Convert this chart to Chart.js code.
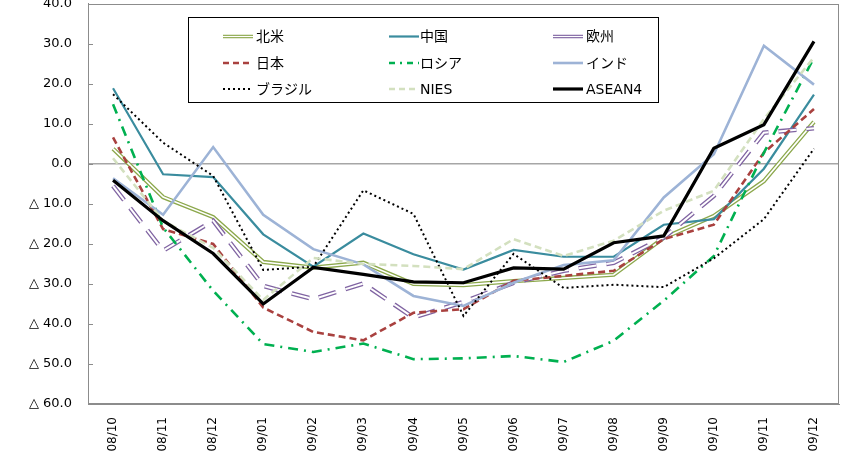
<!DOCTYPE html>
<html><head><meta charset="utf-8">
<script src="https://cdn.jsdelivr.net/npm/chart.js@4"></script>
<style>
html,body{margin:0;padding:0;background:#fff;overflow:hidden;width:847px;height:455px}
#wrap{position:absolute;left:0;top:-20px;width:847px;height:475px}
</style>
</head><body>
<div id="wrap"><canvas id="c" width="847" height="475"></canvas></div>
<script>
const categories = ['08/10','08/11','08/12','09/01','09/02','09/03','09/04','09/05','09/06','09/07','09/08','09/09','09/10','09/11','09/12'];
const seriesNames = ['北米','中国','欧州','日本','ロシア','インド','ブラジル','NIES','ASEAN4'];
const northAmerica = [3.8,-8.3,-13.3,-24.5,-25.9,-24.7,-30.0,-30.3,-29.3,-28.5,-27.7,-18.5,-13.0,-4.3,10.5];
const china        = [18.9,-2.6,-3.3,-17.6,-25.7,-17.4,-22.6,-26.4,-21.5,-23.2,-23.2,-15.2,-13.8,-1.2,17.3];
const europe       = [-5.5,-21.7,-14.2,-30.5,-33.8,-29.9,-38.4,-34.5,-29.7,-26.7,-24.7,-18.4,-8.0,7.8,8.9];
const japan        = [6.6,-16.3,-20.0,-35.9,-42.0,-44.1,-37.2,-36.3,-29.2,-28.0,-26.7,-18.8,-15.2,2.8,13.7];
const russia       = [14.9,-15.9,-31.7,-45.0,-47.0,-44.9,-48.8,-48.6,-48.0,-49.5,-44.2,-34.2,-23.0,2.8,26.5];
const india        = [-3.6,-12.7,4.2,-12.7,-21.3,-25.1,-33.0,-35.5,-29.7,-25.3,-24.1,-8.4,2.4,29.5,19.8];
const brazil       = [17.4,5.3,-3.0,-26.5,-25.7,-6.6,-12.5,-38.0,-22.5,-31.0,-30.2,-30.8,-23.6,-13.8,3.8];
const nies         = [1.4,-14.2,-21.0,-34.0,-23.5,-25.0,-25.5,-26.3,-18.8,-23.0,-19.2,-11.7,-6.7,11.2,26.6];
const asean4       = [-4.1,-14.2,-22.4,-35.0,-25.9,-27.6,-29.5,-29.7,-26.0,-26.3,-19.7,-18.0,3.9,9.8,30.6];
const yMin = -60, yMax = 40, yStep = 10;

const styles = [
  {color:'#8CA84C', width:4.2, dash:[], inner:1.6, legendDash:[]},
  {color:'#3A8C9E', width:2.2, dash:[], legendDash:[]},
  {color:'#8064A2', width:4.6, dash:[18,10], inner:2.0, legendDash:[]},
  {color:'#A9413F', width:2.6, dash:[7,4], legendDash:[6,4]},
  {color:'#00B050', width:2.6, dash:[10,6,2,6], legendDash:[6,5,2,5]},
  {color:'#9DB3D6', width:2.6, dash:[], legendDash:[]},
  {color:'#000000', width:2.0, dash:[2,3], legendDash:[2,3]},
  {color:'#D3E0BF', width:2.6, dash:[7,4], legendDash:[6,4]},
  {color:'#000000', width:3.2, dash:[], legendDash:[]}
];
const values = [northAmerica, china, europe, japan, russia, india, brazil, nies, asean4];

const datasets = values.map((v,i)=>({
  label: seriesNames[i],
  data: v,
  borderColor: styles[i].color,
  backgroundColor: styles[i].color,
  borderWidth: styles[i].width,
  borderDash: styles[i].dash,
  legendDash: styles[i].legendDash,
  inner: styles[i].inner || 0,
  pointRadius: 0,
  tension: 0,
  fill: false,
  order: values.length - 1 - i,
  borderJoinStyle: 'miter',
  borderCapStyle: 'butt'
}));

const custom = {
  id: 'custom',
  afterDatasetDraw(chart, args) {
    const ds = chart.data.datasets[args.index];
    if (!ds.inner) return;
    const ctx = chart.ctx, ca = chart.chartArea;
    ctx.save();
    ctx.beginPath(); ctx.rect(ca.left, ca.top, ca.right-ca.left, ca.bottom-ca.top); ctx.clip();
    ctx.beginPath();
    args.meta.data.forEach((p,i)=> i ? ctx.lineTo(p.x,p.y) : ctx.moveTo(p.x,p.y));
    ctx.strokeStyle = '#ffffff';
    ctx.lineWidth = ds.inner;
    ctx.setLineDash(ds.borderDash);
    ctx.lineJoin = 'miter';
    ctx.stroke();
    ctx.restore();
  },
  afterDraw(chart) {
    const ctx = chart.ctx, ca = chart.chartArea, ys = chart.scales.y;
    ctx.save();
    ctx.strokeStyle = '#8C8C8C'; ctx.lineWidth = 1; ctx.setLineDash([]);
    ctx.strokeRect(Math.round(ca.left)+0.5, Math.round(ca.top)+0.5, Math.round(ca.right-ca.left)-1, Math.round(ca.bottom-ca.top)-1);
    ctx.beginPath();
    for (let v = yMin; v <= yMax; v += yStep) {
      const y = Math.round(ys.getPixelForValue(v)) + 0.5;
      ctx.moveTo(ca.left, y); ctx.lineTo(ca.left + 5, y);
    }
    ctx.stroke();
    // legend (canvas coords = page + 20)
    const bx = 188.5, by = 37.5, bw = 470, bh = 85;
    ctx.fillStyle = '#fff'; ctx.fillRect(bx, by, bw, bh);
    ctx.strokeStyle = '#000'; ctx.lineWidth = 1; ctx.strokeRect(bx, by, bw, bh);
    const colLine = [223, 389, 553], colText = [256, 420, 586], rows = [56.5, 83, 109];
    ctx.font = '14px "DejaVu Sans", "Noto Sans CJK JP", sans-serif';
    ctx.textBaseline = 'middle'; ctx.textAlign = 'left';
    chart.data.datasets.forEach((ds, i) => {
      const r = Math.floor(i/3), c = i % 3;
      const x0 = colLine[c], y0 = rows[r];
      ctx.beginPath(); ctx.moveTo(x0, y0); ctx.lineTo(x0 + 30, y0);
      ctx.strokeStyle = ds.borderColor; ctx.lineWidth = Math.min(ds.borderWidth, 3.5);
      ctx.setLineDash(ds.legendDash);
      ctx.stroke();
      if (ds.inner) {
        ctx.beginPath(); ctx.moveTo(x0, y0); ctx.lineTo(x0 + 30, y0);
        ctx.strokeStyle = '#fff'; ctx.lineWidth = 1.2; ctx.stroke();
      }
      ctx.setLineDash([]);
      ctx.fillStyle = '#000';
      ctx.fillText(ds.label, colText[c], y0 + 1);
    });
    ctx.restore();
  }
};

new Chart(document.getElementById('c'), {
  type: 'line',
  data: { labels: categories, datasets },
  plugins: [custom],
  options: {
    responsive: false,
    devicePixelRatio: 1,
    animation: false,
    layout: { padding: { top: 13, right: 8, left: 0, bottom: 0 } },
    plugins: { legend: { display: false }, tooltip: { enabled: false } },
    scales: {
      x: {
        offset: true,
        grid: { display: false, drawTicks: false },
        border: { display: true, color: '#8C8C8C' },
        ticks: {
          minRotation: 90, maxRotation: 90, padding: 13, autoSkip: false,
          color: '#000', font: { family: '"DejaVu Sans", sans-serif', size: 12 }
        },
        afterFit(s) { s.height = 51; }
      },
      y: {
        min: yMin, max: yMax,
        grid: {
          drawTicks: false,
          color: (c) => (c.tick && c.tick.value === 0) ? '#A6A6A6' : 'rgba(0,0,0,0)',
          lineWidth: (c) => (c.tick && c.tick.value === 0) ? 1.5 : 0
        },
        border: { display: true, color: '#8C8C8C' },
        ticks: {
          stepSize: yStep, padding: 16, color: '#000',
          font: { family: '"DejaVu Sans", sans-serif', size: 13 },
          callback: (v) => v < 0 ? '△ ' + Math.abs(v).toFixed(1) : v.toFixed(1)
        },
        afterFit(s) { s.width = 88; }
      }
    }
  }
});
</script>
</body></html>
